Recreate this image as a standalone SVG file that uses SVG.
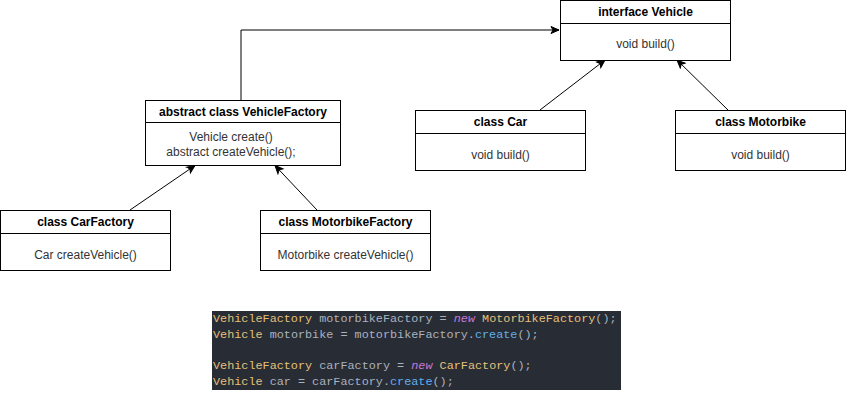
<svg xmlns="http://www.w3.org/2000/svg" width="846" height="403" viewBox="0 0 846 403">
<style>
.box{fill:#fff;stroke:#000;stroke-width:1}
.div{stroke:#000;stroke-width:1}
.title{font-family:"Liberation Sans",Arial,sans-serif;font-size:12px;font-weight:bold;fill:#000;text-anchor:middle}
.body{font-family:"Liberation Sans",Arial,sans-serif;font-size:12px;fill:#333;text-anchor:middle}
.edge{fill:none;stroke:#000;stroke-width:1}
.code{font-family:"Liberation Mono","DejaVu Sans Mono",monospace;font-size:11.8px;fill:#abb2bf;white-space:pre}
.ty{fill:#e5c07b}
.kw{fill:#c678dd;font-style:italic}
.fn{fill:#61afef}
</style>
<defs>
<marker id="arr" markerWidth="10" markerHeight="10" refX="9" refY="5" orient="auto" markerUnits="userSpaceOnUse">
<path d="M1,1.5 L9,5 L1,8.5 L3,5 z" fill="#000" stroke="#000" stroke-width="1"/>
</marker>
</defs>
<rect width="846" height="403" fill="#fff"/>
<g id="connectors">
<path class="edge" d="M241,100 V30 H559" marker-end="url(#arr)"/>
<path class="edge" d="M540,110 L605,60" marker-end="url(#arr)"/>
<path class="edge" d="M728,110 L677,60" marker-end="url(#arr)"/>
<path class="edge" d="M130,210 L195,165.5" marker-end="url(#arr)"/>
<path class="edge" d="M317,210 L275,165.5" marker-end="url(#arr)"/>
</g>
<g id="interface-vehicle">
<rect class="box" x="560.5" y="0.5" width="170" height="60"/>
<line class="div" x1="560.5" y1="23.5" x2="730.5" y2="23.5"/>
<text class="title" x="645.5" y="16">interface Vehicle</text>
<text class="body" x="645.5" y="48">void build()</text>
</g>
<g id="class-car">
<rect class="box" x="415.5" y="110.5" width="170" height="60"/>
<line class="div" x1="415.5" y1="133.5" x2="585.5" y2="133.5"/>
<text class="title" x="500.5" y="126">class Car</text>
<text class="body" x="500.5" y="159">void build()</text>
</g>
<g id="class-motorbike">
<rect class="box" x="675.5" y="110.5" width="170" height="60"/>
<line class="div" x1="675.5" y1="133.5" x2="845.5" y2="133.5"/>
<text class="title" x="760.5" y="126">class Motorbike</text>
<text class="body" x="760.5" y="159">void build()</text>
</g>
<g id="vehicle-factory">
<rect class="box" x="145.5" y="100.5" width="195" height="65"/>
<line class="div" x1="145.5" y1="122.5" x2="340.5" y2="122.5"/>
<text class="title" x="243" y="116">abstract class VehicleFactory</text>
<text class="body" x="231" y="141">Vehicle create()</text>
<text class="body" x="231" y="156">abstract createVehicle();</text>
</g>
<g id="car-factory">
<rect class="box" x="0.5" y="210.5" width="170" height="60"/>
<line class="div" x1="0.5" y1="233.5" x2="170.5" y2="233.5"/>
<text class="title" x="85.5" y="226">class CarFactory</text>
<text class="body" x="85.5" y="259">Car createVehicle()</text>
</g>
<g id="motorbike-factory">
<rect class="box" x="260.5" y="210.5" width="170" height="60"/>
<line class="div" x1="260.5" y1="233.5" x2="430.5" y2="233.5"/>
<text class="title" x="345.5" y="226">class MotorbikeFactory</text>
<text class="body" x="345.5" y="259">Motorbike createVehicle()</text>
</g>
<g id="code-snippet">
<rect x="212" y="311" width="409" height="79" fill="#282c34"/>
<text class="code" x="213" y="322"><tspan class="ty">VehicleFactory</tspan> motorbikeFactory = <tspan class="kw">new</tspan> <tspan class="ty">MotorbikeFactory</tspan>();</text>
<text class="code" x="213" y="338"><tspan class="ty">Vehicle</tspan> motorbike = motorbikeFactory.<tspan class="fn">create</tspan>();</text>
<text class="code" x="213" y="369"><tspan class="ty">VehicleFactory</tspan> carFactory = <tspan class="kw">new</tspan> <tspan class="ty">CarFactory</tspan>();</text>
<text class="code" x="213" y="385"><tspan class="ty">Vehicle</tspan> car = carFactory.<tspan class="fn">create</tspan>();</text>
</g>
</svg>
